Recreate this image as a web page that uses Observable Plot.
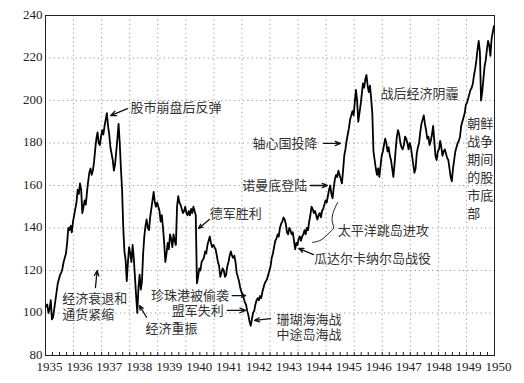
<!DOCTYPE html>
<html>
<head>
<meta charset="utf-8">
<script src="https://cdn.jsdelivr.net/npm/d3@7"></script>
<script src="https://cdn.jsdelivr.net/npm/@observablehq/plot@0.6"></script>
<style>
  html, body { margin: 0; padding: 0; background: #fff; }
  #chart { width: 524px; height: 383px; }
</style>
</head>
<body>
<div id="chart"></div>
<script>
// Dow Jones Industrial Average, semi-monthly readings
const years = [1935,1936,1937,1938,1939,1940,1941,1942,1943,1944,1945,1946,1947,1948,1949,1950];
const v1935 = [103,104,100,102,106,97,98,102,106,110,114,116,118,119,121,124,126,128,133,140,139,141,138,143];
const v1936 = [146,149,152,158,156,161,158,147,150,153,151,157,162,166,168,165,167,171,177,182,185,180,179,183];
const v1937 = [186,184,188,191,194,188,184,178,175,172,167,170,176,182,189,180,168,158,140,129,125,115,124,131];
const v1938 = [128,124,132,126,117,108,100,112,118,111,115,128,136,141,144,140,139,145,149,153,157,152,150,152];
const v1939 = [150,148,143,146,140,133,124,128,133,130,137,135,131,137,134,132,150,155,152,151,149,147,148,150];
const v1940 = [147,146,148,146,149,147,150,148,146,114,117,121,120,124,125,126,129,128,132,134,136,133,131,132];
const v1941 = [131,130,127,124,122,117,119,121,120,117,118,122,124,127,129,127,126,127,124,119,117,115,112,110];
const v1942 = [109,107,105,104,101,99,96,94,97,100,101,104,106,107,106,108,107,110,112,114,115,116,118,120];
const v1943 = [122,126,128,131,134,135,137,136,140,142,143,145,144,142,138,137,140,139,137,138,134,130,133,132];
const v1944 = [135,136,134,136,137,139,137,140,139,143,146,150,149,147,148,146,144,146,147,145,148,149,151,153];
const v1945 = [152,155,158,160,156,154,159,163,165,164,167,165,163,161,167,174,177,181,184,187,191,193,195,193];
const v1946 = [199,205,200,190,194,198,203,208,206,210,212,207,204,207,201,194,176,172,168,165,168,164,169,174];
const v1947 = [176,179,182,180,176,178,174,172,168,164,170,177,183,186,184,180,178,177,179,183,182,180,177,180];
const v1948 = [178,174,170,166,168,175,178,180,185,189,191,193,189,186,182,183,179,181,184,188,181,174,172,176];
const v1949 = [177,181,178,174,176,177,175,173,172,168,164,162,168,172,176,178,180,181,183,188,190,192,194,198];
const v1950 = [199,201,203,205,206,208,212,215,219,224,228,223,200,204,210,216,219,224,228,226,221,229,232,235];
const series = [v1935,v1936,v1937,v1938,v1939,v1940,v1941,v1942,v1943,v1944,v1945,v1946,v1947,v1948,v1949,v1950];

const yTicks = [80,100,120,140,160,180,200,220,240];
const xLabels = ["1935","1936","1937","1938","1939","1940","1941","1942","1943","1944","1945","1946","1947","1948","1949","1950"];

// annotations (data coordinates: year, index level)
const noteText = ["股市崩盘后反弹","轴心国投降","诺曼底登陆","德军胜利","太平洋跳岛进攻","瓜达尔卡纳尔岛战役",
  "珊瑚海海战\n中途岛海战","珍珠港被偷袭","盟军失利","经济重振","经济衰退和\n通货紧缩","战后经济阴霾","朝鲜\n战争\n期间\n的股\n市底\n部"];
const noteX = [1938.03,1944.69,1944.33,1940.85,1945.41,1944.57,1943.23,1941.54,1941.35,1938.56,1935.6,1946.94,1950.03];
const noteY = [196.7,179.8,160,146.8,138.8,125.6,93.6,108.2,101.2,92.7,103.5,203.2,168.5];
const noteAnchor = ["start","end","end","start","start","start","start","end","end","start","start","start","start"];

const arrowX1 = [1937.92,1944.91,1944.44,1940.84,1944.55,1943.02,1941.65,1941.48,1938.60,1936.78];
const arrowY1 = [196.2,179.8,160,144,127.5,97.4,108.2,101.2,98,112];
const arrowX2 = [1937.32,1945.51,1945.05,1940.45,1944.02,1942.45,1942.13,1942.13,1938.35,1936.84];
const arrowY2 = [192.9,179.8,160,139.8,130.4,96.5,108.2,101.2,103.5,120];

const braceX = [1945.41,1945.23,1945.19,1945.33,1945.09,1944.87,1944.52];
const braceY = [152,147.3,142.6,139.8,137.9,134.1,133.2];

const rows = [];
years.forEach((yr, i) => series[i].forEach((v, k) => rows.push({t: yr + (k + 0.5) / 24, v})));
const notes = noteText.map((text, i) => ({text, x: noteX[i], y: noteY[i], anchor: noteAnchor[i]}));
const arrows = arrowX1.map((x1, i) => ({x1, y1: arrowY1[i], x2: arrowX2[i], y2: arrowY2[i]}));
const brace = braceX.map((x, i) => ({x, y: braceY[i]}));
const x0 = 1935, x1 = 1951;
const labelRows = xLabels.map((label, i) => ({label, pos: x0 + i * (x1 - x0) / (xLabels.length - 1)}));
const quarters = d3.range(x0 * 4, x1 * 4 + 1).map(q => q / 4);
const gridYears = d3.range(x0 + 1, x1);

const font = "'Liberation Serif', 'Noto Sans CJK SC', serif";
const multi = (a) => notes.filter(n => n.anchor === a && !n.text.includes("\n"));

const chart = Plot.plot({
  width: 524, height: 383,
  marginLeft: 45, marginRight: 30, marginTop: 15, marginBottom: 28,
  x: {domain: [x0, x1], axis: null},
  y: {domain: [80, 240], axis: null},
  style: {fontFamily: font, fontSize: "13px", background: "#fff", color: "#222"},
  marks: [
    Plot.gridX(gridYears, {stroke: "#9a9a9a", strokeOpacity: 1, strokeDasharray: "1.2,3.2"}),
    Plot.gridY(yTicks.slice(1, -1), {stroke: "#9a9a9a", strokeOpacity: 1, strokeDasharray: "1.2,3.2"}),
    Plot.axisX(quarters, {anchor: "bottom", tickSize: -3, tickFormat: () => "", label: null, stroke: "#222"}),
    Plot.text(labelRows, {x: "pos", text: "label", frameAnchor: "bottom", dy: 15, dx: 4, fontSize: 13, fill: "#222"}),
    Plot.axisY(yTicks, {anchor: "left", tickSize: 0, tickPadding: 3, dy: -1, label: null, fontSize: 13, fill: "#222"}),
    Plot.frame({stroke: "#222", strokeWidth: 1}),
    Plot.line(rows, {x: "t", y: "v", stroke: "#000", strokeWidth: 1.8, strokeLinejoin: "round"}),
    Plot.line(brace, {x: "x", y: "y", curve: "basis", stroke: "#222", strokeWidth: 1}),
    Plot.arrow(arrows, {x1: "x1", y1: "y1", x2: "x2", y2: "y2", stroke: "#111", strokeWidth: 1.3, headLength: 7, headAngle: 45}),
    Plot.text(multi("start"), {x: "x", y: "y", text: "text", textAnchor: "start", fill: "#333", fontSize: 13}),
    Plot.text(multi("end"), {x: "x", y: "y", text: "text", textAnchor: "end", fill: "#333", fontSize: 13}),
    Plot.text(notes.filter(n => n.text.startsWith("珊瑚")), {x: "x", y: "y", text: "text", textAnchor: "start", lineHeight: 1.2, fill: "#333", fontSize: 13}),
    Plot.text(notes.filter(n => n.text.startsWith("经济衰退")), {x: "x", y: "y", text: "text", textAnchor: "start", lineHeight: 1.28, fill: "#333", fontSize: 13}),
    Plot.text(notes.filter(n => n.text.startsWith("朝鲜")), {x: "x", y: "y", text: "text", textAnchor: "start", lineHeight: 1.38, fill: "#333", fontSize: 13})
  ]
});
document.getElementById("chart").appendChild(chart);
</script>
</body>
</html>
